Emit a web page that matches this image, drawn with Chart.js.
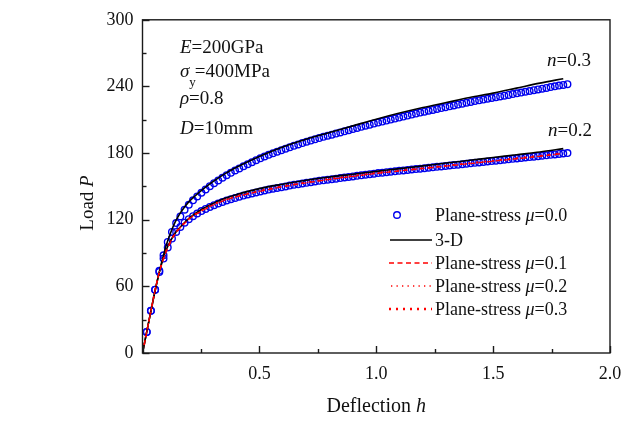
<!DOCTYPE html>
<html>
<head>
<meta charset="utf-8">
<script src="https://cdn.jsdelivr.net/npm/chart.js@4.4.1/dist/chart.umd.min.js"></script>
<style>
html,body{margin:0;padding:0;background:#fff;}
#wrap{width:634px;height:421px;position:relative;}
</style>
</head>
<body>
<div id="wrap"><canvas id="c" width="634" height="421"></canvas></div>
<script>
// ---- data ----
// deflection h of the open-circle (plane-stress mu=0.0) samples
const circleH = [0.018,0.036,0.054,0.072,0.090,0.108,0.126,0.144,0.162,0.180,
0.198,0.216,0.234,0.252,0.270,0.288,0.306,0.324,0.342,0.360,
0.378,0.396,0.414,0.432,0.450,0.468,0.486,0.504,0.522,0.540,
0.558,0.576,0.594,0.612,0.630,0.648,0.666,0.684,0.702,0.720,
0.738,0.756,0.774,0.792,0.810,0.828,0.846,0.864,0.882,0.900,
0.918,0.936,0.954,0.972,0.990,1.008,1.026,1.044,1.062,1.080,
1.098,1.116,1.134,1.152,1.170,1.188,1.206,1.224,1.242,1.260,
1.278,1.296,1.314,1.332,1.350,1.368,1.386,1.404,1.422,1.440,
1.458,1.476,1.494,1.512,1.530,1.548,1.566,1.584,1.602,1.620,
1.638,1.656,1.674,1.692,1.710,1.728,1.746,1.764,1.782,1.800,1.818];
// n = 0.3, plane-stress mu=0.0 (circles)
const circleN03 = [19,38,57,74,88,100,109,117,123,129,
133.5,137.5,141,144.3,147.3,150.2,152.9,155.4,157.8,160.1,
162.2,164.3,166.2,168.1,170,171.8,173.6,175.3,176.9,178.4,
179.8,181.2,182.6,183.9,185.2,186.5,187.8,189,190.2,191.3,
192.4,193.5,194.6,195.6,196.6,197.6,198.6,199.6,200.6,201.6,
202.6,203.6,204.6,205.6,206.6,207.5,208.4,209.3,210.2,211.1,
212,212.9,213.8,214.7,215.6,216.5,217.3,218.1,218.9,219.7,
220.5,221.3,222.1,222.9,223.7,224.5,225.3,226.1,226.8,227.5,
228.2,228.9,229.6,230.3,231,231.7,232.4,233.1,233.8,234.5,
235.2,235.9,236.6,237.3,238,238.7,239.4,240.1,240.8,241.4,242];
// n = 0.2, plane-stress mu=0.0 (circles)
const circleN02 = [19,38,57,73,85,95,103,109,113.5,117.3,
120.5,123.2,125.6,127.8,129.7,131.5,133.1,134.6,136,137.3,
138.5,139.6,140.7,141.7,142.7,143.7,144.6,145.5,146.3,147.1,
147.9,148.6,149.3,150,150.7,151.4,152,152.6,153.2,153.8,
154.4,155,155.5,156,156.5,157,157.5,158,158.5,159,
159.5,160,160.5,161,161.5,162,162.4,162.8,163.2,163.6,
164,164.4,164.8,165.2,165.6,166,166.4,166.8,167.2,167.6,
168,168.4,168.8,169.2,169.6,170,170.4,170.8,171.2,171.6,
172,172.4,172.8,173.2,173.6,174,174.4,174.8,175.2,175.6,
176,176.4,176.8,177.2,177.6,178,178.4,178.8,179.2,179.6,180];
// deflection h of the line series
const lineH = [0,0.02,0.04,0.06,0.08,0.1,0.12,0.14,0.16,0.18,0.2,0.25,0.3,0.35,0.4,0.5,0.6,0.7,0.8,0.9,1.0,1.1,1.2,1.3,1.4,1.5,1.6,1.7,1.8];
const solid3dN03 = [0,21,42,62,80,96,108,118,125.5,131.5,136.5,146,154,161,167,177,185.5,192.5,198.5,204.5,210.5,216,221,225.5,230,234,238.5,243,247];
const solid3dN02 = [0,21,42,62,79,92,101,108,113,117.5,121.5,129,134.5,139,142.5,148,152,155.5,158.5,161,163.5,166,168.5,171,173.5,176,178.5,181,184];
const psMu01N02 = [0,21,42,62.5,78.5,90.5,100,107.5,112.5,116.8,120.8,127.5,133,137.3,140.5,145.5,149.7,153.2,156.3,159,161.7,163.9,166.1,168.3,170.5,172.7,174.9,177.1,179.6];
const psMu02N02 = [0,21,42,62.5,78.6,90.7,100.2,107.7,112.7,117,121,127.7,133.2,137.5,140.7,145.7,149.9,153.4,156.5,159.2,161.9,164.1,166.3,168.5,170.7,172.9,175.1,177.3,179.8];
const psMu03N02 = [0,21,42,62.6,78.8,90.9,100.4,107.9,112.9,117.2,121.2,127.9,133.4,137.7,140.9,145.9,150.1,153.6,156.7,159.4,162.1,164.3,166.5,168.7,170.9,173.1,175.3,177.5,180];
// axis ticks
const xTicks = [0,0.25,0.5,0.75,1.0,1.25,1.5,1.75,2.0];
const xLabels = ['', '', '0.5', '', '1.0', '', '1.5', '', '2.0'];
const yTicks = [0,30,60,90,120,150,180,210,240,270,300];
const yLabels = ['0','','60','','120','','180','','240','','300'];
const legendTexts = ['Plane-stress μ=0.0','3-D','Plane-stress μ=0.1','Plane-stress μ=0.2','Plane-stress μ=0.3'];

const pts = (xs, ys) => xs.map((x, i) => ({x: x, y: ys[i]}));
const SERIF = '"Liberation Serif","Times New Roman",serif';

function rich(ctx, x, y, parts, size) {
  let cx = x;
  for (const p of parts) {
    ctx.font = (p.i ? 'italic ' : '') + (p.s || size) + 'px ' + SERIF;
    ctx.fillText(p.t, cx, y + (p.dy || 0));
    cx += ctx.measureText(p.t).width + (p.gap || 0);
  }
}

const decor = {
  id: 'decor',
  afterDraw(chart) {
    const ctx = chart.ctx;
    const xs = chart.scales.x, ys = chart.scales.y;
    const a = chart.chartArea;
    ctx.save();
    ctx.strokeStyle = '#1a1a1a';
    ctx.lineWidth = 1.4;
    ctx.setLineDash([]);
    // inward tick marks
    xTicks.forEach((v, i) => {
      const px = Math.round(xs.getPixelForValue(v)) + 0.5;
      const len = (i % 2 === 0) ? 7 : 4;
      ctx.beginPath(); ctx.moveTo(px, a.bottom); ctx.lineTo(px, a.bottom - len); ctx.stroke();
    });
    yTicks.forEach((v, i) => {
      const py = Math.round(ys.getPixelForValue(v)) + 0.5;
      const len = (i % 2 === 0) ? 7 : 4;
      ctx.beginPath(); ctx.moveTo(a.left, py); ctx.lineTo(a.left + len, py); ctx.stroke();
    });
    // frame
    ctx.strokeRect(a.left, a.top, a.right - a.left, a.bottom - a.top);

    ctx.fillStyle = '#111';
    ctx.textBaseline = 'alphabetic';
    ctx.textAlign = 'left';
    // parameter annotations
    rich(ctx, 180, 53, [{t:'E', i:true}, {t:'=200GPa'}], 19);
    rich(ctx, 180, 77, [{t:'σ', i:true}, {t:'y', s:13, dy:9, gap:-1}, {t:'=400MPa'}], 19);
    rich(ctx, 180, 104, [{t:'ρ', i:true}, {t:'=0.8'}], 19);
    rich(ctx, 180, 134, [{t:'D', i:true}, {t:'=10mm'}], 19);
    rich(ctx, 547, 66, [{t:'n', i:true}, {t:'=0.3'}], 19);
    rich(ctx, 548, 136, [{t:'n', i:true}, {t:'=0.2'}], 19);

    // axis titles
    ctx.font = '20px ' + SERIF;
    const t1 = 'Deflection ', t2 = 'h';
    const w1 = ctx.measureText(t1).width;
    ctx.font = 'italic 20px ' + SERIF;
    const w2 = ctx.measureText(t2).width;
    const cxT = (a.left + a.right) / 2 - (w1 + w2) / 2;
    rich(ctx, cxT, 412, [{t:t1}, {t:t2, i:true}], 20);

    ctx.save();
    ctx.translate(93, 203);
    ctx.rotate(-Math.PI / 2);
    ctx.font = '19px ' + SERIF;
    const l1 = ctx.measureText('Load ').width;
    ctx.font = 'italic 19px ' + SERIF;
    const l2 = ctx.measureText('P').width;
    rich(ctx, -(l1 + l2) / 2, 0, [{t:'Load '}, {t:'P', i:true}], 19);
    ctx.restore();

    // legend
    const rowY = [215, 240, 263, 286, 309];
    const tx = 435;
    // row 1: circle
    ctx.strokeStyle = '#0000ee'; ctx.lineWidth = 1.4;
    ctx.beginPath(); ctx.arc(397, rowY[0], 3.3, 0, Math.PI * 2); ctx.stroke();
    // row 2: solid black
    ctx.strokeStyle = '#000'; ctx.lineWidth = 1.6; ctx.setLineDash([]);
    ctx.beginPath(); ctx.moveTo(390, rowY[1]); ctx.lineTo(432, rowY[1]); ctx.stroke();
    // row 3: dashed red
    ctx.strokeStyle = '#ff0000'; ctx.lineWidth = 1.3; ctx.setLineDash([5, 3.5]);
    ctx.beginPath(); ctx.moveTo(389, rowY[2]); ctx.lineTo(432, rowY[2]); ctx.stroke();
    // row 4: dotted red
    ctx.setLineDash([1.3, 4.2]); ctx.lineWidth = 1.3;
    ctx.beginPath(); ctx.moveTo(391, rowY[3]); ctx.lineTo(432, rowY[3]); ctx.stroke();
    // row 5: heavy dotted red
    ctx.setLineDash([2, 5]); ctx.lineWidth = 2.3;
    ctx.beginPath(); ctx.moveTo(389, rowY[4]); ctx.lineTo(432, rowY[4]); ctx.stroke();
    ctx.setLineDash([]);
    legendTexts.forEach((txt, i) => {
      const m = txt.indexOf('μ');
      const parts = m < 0 ? [{t: txt}] : [{t: txt.slice(0, m)}, {t: 'μ', i: true}, {t: txt.slice(m + 1)}];
      rich(ctx, tx, rowY[i] + 6, parts, 18);
    });
    ctx.restore();
  }
};

const lineDs = (label, xs, ys, color, width, dash, order) => ({
  label, data: pts(xs, ys), showLine: true, borderColor: color, borderWidth: width,
  borderDash: dash, pointRadius: 0, fill: false, cubicInterpolationMode: 'monotone', order
});
const circleDs = (label, xs, ys) => ({
  label, data: pts(xs, ys), showLine: false, pointStyle: 'circle', pointRadius: 3.3,
  pointBorderWidth: 1.4, pointBorderColor: '#0000ee', pointBackgroundColor: 'rgba(0,0,0,0)', order: 3
});

new Chart(document.getElementById('c'), {
  type: 'scatter',
  data: {
    datasets: [
      circleDs('Plane-stress μ=0.0 n=0.3', circleH, circleN03),
      circleDs('Plane-stress μ=0.0 n=0.2', circleH, circleN02),
      lineDs('3-D n=0.3', lineH, solid3dN03, '#000', 1.6, [], 2),
      lineDs('3-D n=0.2', lineH, solid3dN02, '#000', 1.6, [], 2),
      lineDs('Plane-stress μ=0.1', lineH, psMu01N02, '#ff0000', 1.3, [5, 3.5], 1),
      lineDs('Plane-stress μ=0.2', lineH, psMu02N02, '#ff0000', 1.3, [1.3, 4.2], 1),
      lineDs('Plane-stress μ=0.3', lineH, psMu03N02, '#ff0000', 1.9, [2, 6], 1)
    ]
  },
  options: {
    responsive: false,
    animation: false,
    devicePixelRatio: 1,
    layout: {padding: {left: 0, right: 24, top: 14, bottom: 0}},
    plugins: {legend: {display: false}, tooltip: {enabled: false}, title: {display: false}},
    scales: {
      x: {
        type: 'linear', min: 0, max: 2,
        afterFit(s) { s.height = 68; },
        afterBuildTicks(s) { s.ticks = xTicks.map(v => ({value: v})); },
        grid: {display: false, drawTicks: false},
        border: {display: false},
        ticks: {
          padding: 10, color: '#111', maxRotation: 0, autoSkip: false,
          font: {family: SERIF, size: 18},
          callback: (v) => { const i = xTicks.indexOf(v); return i < 0 ? '' : xLabels[i]; }
        }
      },
      y: {
        type: 'linear', min: 0, max: 300,
        afterFit(s) { s.width = 142.5; },
        afterBuildTicks(s) { s.ticks = yTicks.map(v => ({value: v})); },
        grid: {display: false, drawTicks: false},
        border: {display: false},
        ticks: {
          padding: 9, color: '#111', autoSkip: false,
          font: {family: SERIF, size: 18},
          callback: (v) => { const i = yTicks.indexOf(v); return i < 0 ? '' : yLabels[i]; }
        }
      }
    }
  },
  plugins: [decor]
});
</script>
</body>
</html>
